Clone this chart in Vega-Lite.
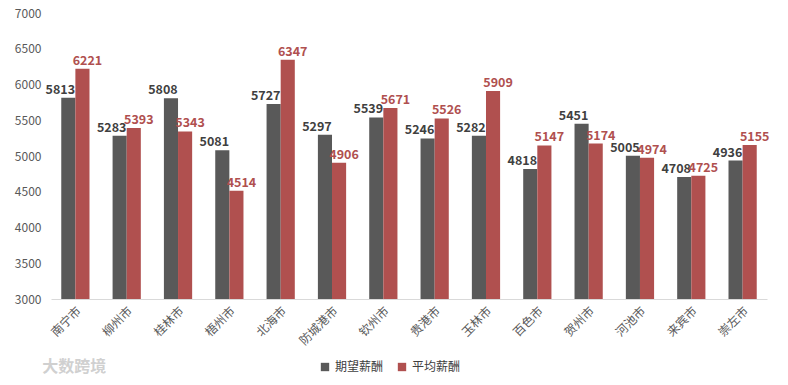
{
  "$schema": "https://vega.github.io/schema/vega-lite/v6.json",
  "width": 716,
  "height": 286,
  "padding": {"left": 14, "right": 0, "top": 7, "bottom": 0},
  "config": {
    "view": {"stroke": null},
    "font": "Noto Sans CJK SC",
    "axis": {"labelFont": "Noto Sans CJK SC", "labelColor": "#595959", "labelFontSize": 12},
    "legend": {"labelFont": "Noto Sans CJK SC", "labelColor": "#404040", "labelFontSize": 12}
  },
  "title": {
    "text": "大数跨境",
    "orient": "bottom",
    "anchor": "start",
    "color": "#d0d0d0",
    "fontSize": 16,
    "fontWeight": "bold",
    "offset": -14,
    "dx": 28
  },
  "data": {
    "values": [
      {"city": "南宁市", "series": "期望薪酬", "value": 5813},
      {"city": "南宁市", "series": "平均薪酬", "value": 6221},
      {"city": "柳州市", "series": "期望薪酬", "value": 5283},
      {"city": "柳州市", "series": "平均薪酬", "value": 5393},
      {"city": "桂林市", "series": "期望薪酬", "value": 5808},
      {"city": "桂林市", "series": "平均薪酬", "value": 5343},
      {"city": "梧州市", "series": "期望薪酬", "value": 5081},
      {"city": "梧州市", "series": "平均薪酬", "value": 4514},
      {"city": "北海市", "series": "期望薪酬", "value": 5727},
      {"city": "北海市", "series": "平均薪酬", "value": 6347},
      {"city": "防城港市", "series": "期望薪酬", "value": 5297},
      {"city": "防城港市", "series": "平均薪酬", "value": 4906},
      {"city": "钦州市", "series": "期望薪酬", "value": 5539},
      {"city": "钦州市", "series": "平均薪酬", "value": 5671},
      {"city": "贵港市", "series": "期望薪酬", "value": 5246},
      {"city": "贵港市", "series": "平均薪酬", "value": 5526},
      {"city": "玉林市", "series": "期望薪酬", "value": 5282},
      {"city": "玉林市", "series": "平均薪酬", "value": 5909},
      {"city": "百色市", "series": "期望薪酬", "value": 4818},
      {"city": "百色市", "series": "平均薪酬", "value": 5147},
      {"city": "贺州市", "series": "期望薪酬", "value": 5451},
      {"city": "贺州市", "series": "平均薪酬", "value": 5174},
      {"city": "河池市", "series": "期望薪酬", "value": 5005},
      {"city": "河池市", "series": "平均薪酬", "value": 4974},
      {"city": "来宾市", "series": "期望薪酬", "value": 4708},
      {"city": "来宾市", "series": "平均薪酬", "value": 4725},
      {"city": "崇左市", "series": "期望薪酬", "value": 4936},
      {"city": "崇左市", "series": "平均薪酬", "value": 5155}
    ]
  },
  "encoding": {
    "x": {
      "field": "city", "type": "nominal", "sort": null, "title": null,
      "scale": {"paddingInner": 0.45, "paddingOuter": 0.2},
      "axis": {"labelAngle": -45, "ticks": false, "domainColor": "#d9d9d9", "labelPadding": 6, "labelColor": "#595959"}
    },
    "xOffset": {"field": "series", "type": "nominal", "sort": ["期望薪酬", "平均薪酬"]},
    "y": {
      "field": "value", "type": "quantitative", "title": null,
      "scale": {"domain": [3000, 7000], "zero": false},
      "axis": {"values": [3000, 3500, 4000, 4500, 5000, 5500, 6000, 6500, 7000], "format": "d", "grid": false, "ticks": false, "domain": false, "labelPadding": 10}
    }
  },
  "layer": [
    {
      "mark": {"type": "bar", "clip": true},
      "encoding": {
        "color": {
          "field": "series", "type": "nominal", "sort": ["期望薪酬", "平均薪酬"],
          "scale": {"domain": ["期望薪酬", "平均薪酬"], "range": ["#595959", "#b0504f"]},
          "legend": {"orient": "none", "legendX": 268, "legendY": 348, "title": null, "symbolType": "square", "symbolSize": 70, "direction": "horizontal", "columnPadding": 12}
        }
      }
    },
    {
      "transform": [{"filter": "datum.series == '期望薪酬'"}],
      "mark": {"type": "text", "baseline": "bottom", "dy": -1, "dx": -8, "fontWeight": "bold", "fontSize": 12.5, "color": "#404040"},
      "encoding": {"text": {"field": "value", "type": "quantitative", "format": "d"}}
    },
    {
      "transform": [{"filter": "datum.series == '平均薪酬'"}],
      "mark": {"type": "text", "baseline": "bottom", "dy": -1, "dx": 5, "fontWeight": "bold", "fontSize": 12.5, "color": "#b0504f"},
      "encoding": {"text": {"field": "value", "type": "quantitative", "format": "d"}}
    }
  ]
}
